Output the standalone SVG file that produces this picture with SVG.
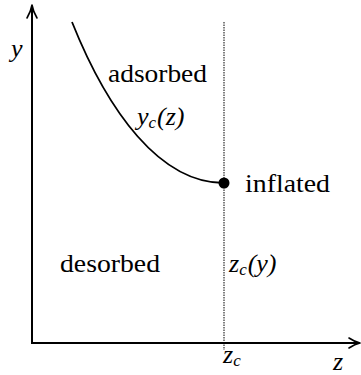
<svg xmlns="http://www.w3.org/2000/svg" width="361" height="375" viewBox="0 0 361 375">
<style>
.t{font-family:'Liberation Serif',serif !important;font-size:26px;fill:#000}
.m{font-family:'Liberation Serif',serif !important;font-size:26px;font-style:italic;fill:#000}
.s{font-size:17px}
.ax{stroke:#000;stroke-width:2;fill:none}
.ah{stroke:#000;stroke-width:1.6;fill:none;stroke-linecap:round;stroke-linejoin:round}
</style>
<rect width="361" height="375" fill="#fff"/>
<g id="connectors">
<line class="ax" x1="32" y1="344" x2="32" y2="6"/>
<path class="ah" d="M27,18 Q31,11 32,5 Q33,11 37,18"/>
<line class="ax" x1="31" y1="343" x2="359" y2="343"/>
<path class="ah" d="M349,338 Q355,342 360,343 Q355,344 349,348"/>
<line x1="224" y1="22" x2="224" y2="350" stroke="#000" stroke-width="1" stroke-dasharray="1.5,1"/>
<path d="M72,22 C108,112 160,183 224,183" fill="none" stroke="#000" stroke-width="1.8"/>
</g>
<g id="curve-point"><circle cx="224" cy="183" r="5.5" fill="#000"/></g>
<g id="label-y"><text class="m" font-family="Liberation Serif" style="font-family:'Liberation Serif',serif" x="11" y="57">y</text></g>
<g id="label-adsorbed"><text class="t" font-family="Liberation Serif" style="font-family:'Liberation Serif',serif" x="108" y="82" textLength="99" lengthAdjust="spacingAndGlyphs">adsorbed</text></g>
<g id="label-yc"><text class="m" font-family="Liberation Serif" style="font-family:'Liberation Serif',serif" x="137" y="125">y<tspan class="s" dy="3">c</tspan><tspan dy="-3" dx="1">(z)</tspan></text></g>
<g id="label-inflated"><text class="t" font-family="Liberation Serif" style="font-family:'Liberation Serif',serif" x="245" y="192" textLength="85" lengthAdjust="spacingAndGlyphs">inflated</text></g>
<g id="label-desorbed"><text class="t" font-family="Liberation Serif" style="font-family:'Liberation Serif',serif" x="60" y="272" textLength="100" lengthAdjust="spacingAndGlyphs">desorbed</text></g>
<g id="label-zcy"><text class="m" font-family="Liberation Serif" style="font-family:'Liberation Serif',serif" x="229" y="272">z<tspan class="s" dy="3">c</tspan><tspan dy="-3" dx="1">(y)</tspan></text></g>
<g id="label-zc"><text class="m" font-family="Liberation Serif" style="font-family:'Liberation Serif',serif" x="223" y="363">z<tspan class="s" dy="3">c</tspan></text></g>
<g id="label-z"><text class="m" font-family="Liberation Serif" style="font-family:'Liberation Serif',serif" x="333" y="370">z</text></g>
</svg>
